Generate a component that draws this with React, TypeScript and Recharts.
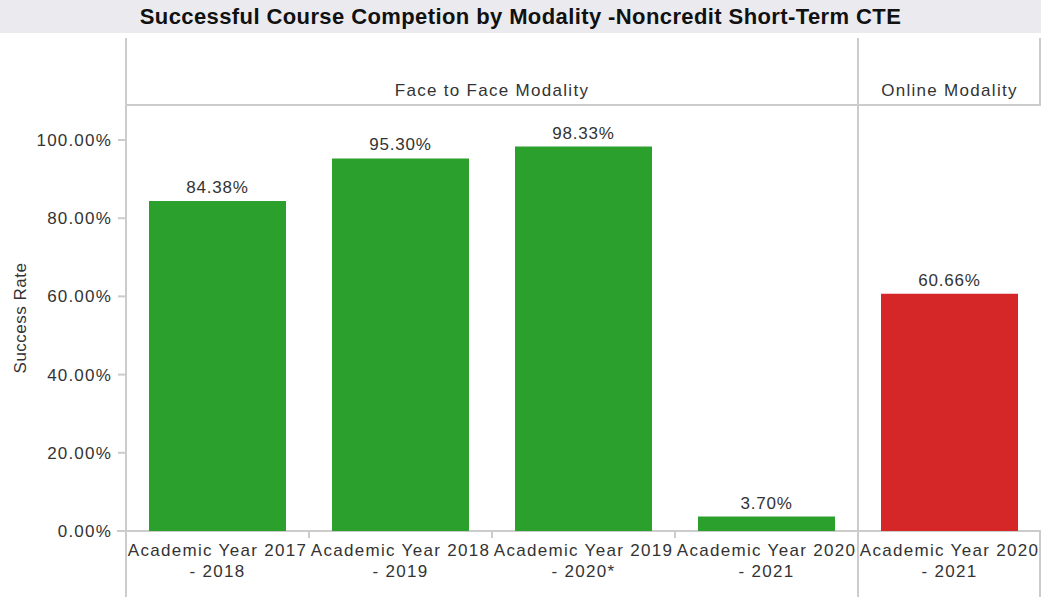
import React from "react";
import { BarChart, Bar, XAxis, YAxis, Cell, LabelList } from "recharts";

const CATEGORIES = [
  "Academic Year 2017 - 2018",
  "Academic Year 2018 - 2019",
  "Academic Year 2019 - 2020*",
  "Academic Year 2020 - 2021",
  "Academic Year 2020 - 2021",
];
const MODALITY = ["Face to Face", "Face to Face", "Face to Face", "Face to Face", "Online"];
const SUCCESS_RATE = [84.38, 95.3, 98.33, 3.7, 60.66];
const Y_TICKS = [0, 20, 40, 60, 80, 100];
const PANELS = ["Face to Face Modality", "Online Modality"];

const COLORS: Record<string, string> = { "Face to Face": "#2ca02c", Online: "#d62728" };

const W = 1041;
const H = 597;
const LEFT = 126;
const TOP = 105;
const BOTTOM = 531;
const BAND = (W - LEFT) / CATEGORIES.length;
const LINE = "#cccccc";
const TEXT = "#333333";
const FONT = "'Liberation Sans', Arial, sans-serif";

const data = CATEGORIES.map((label, i) => ({
  key: i,
  label,
  modality: MODALITY[i],
  rate: SUCCESS_RATE[i],
}));

const pct = (v: number) => `${Number(v).toFixed(2)}%`;

function CategoryTick({ x, y, payload }: any) {
  const label = data[payload.value]?.label ?? "";
  const cut = label.indexOf(" - ");
  const first = label.slice(0, cut);
  const second = label.slice(cut + 1);
  return (
    <text x={x} y={y} textAnchor="middle" fill={TEXT} fontSize={17} letterSpacing={1.3} fontFamily={FONT}>
      <tspan x={x} dy={25}>{first}</tspan>
      <tspan x={x} dy={21}>{second}</tspan>
    </text>
  );
}

const line = (left: number, top: number, width: number, height: number) => (
  <div style={{ position: "absolute", left, top, width, height, background: LINE }} />
);

const headerStyle = {
  position: "absolute" as const,
  top: 81,
  textAlign: "center" as const,
  fontSize: 17,
  letterSpacing: 1.3,
  color: TEXT,
};

export default function App() {
  const onlineStart = LEFT + BAND * 4;
  return (
    <div style={{ position: "absolute", left: 0, top: 0, width: W, height: H, background: "#fff", fontFamily: FONT }}>
      <div
        style={{
          position: "absolute",
          left: 0,
          top: 0,
          width: W,
          height: 33,
          background: "#ebebef",
          textAlign: "center",
          lineHeight: "34px",
          fontWeight: "bold",
          fontSize: 22,
          letterSpacing: 0.4,
          color: "#111",
        }}
      >
        Successful Course Competion by Modality -Noncredit Short-Term CTE
      </div>
      {line(LEFT - 1, 38, 2, H - 38)}
      {line(onlineStart - 1, 38, 2, H - 38)}
      {line(W - 2, 38, 2, TOP - 38)}
      {line(W - 2, BOTTOM, 2, H - BOTTOM)}
      {line(LEFT, TOP - 1, W - LEFT, 2)}
      {line(LEFT - 9, BOTTOM - 1, W - LEFT + 9, 2)}
      {[1, 2, 3].map((i) => (
        <React.Fragment key={i}>{line(LEFT + BAND * i - 1, BOTTOM, 2, 7)}</React.Fragment>
      ))}
      <div style={{ ...headerStyle, left: LEFT, width: BAND * 4 }}>{PANELS[0]}</div>
      <div style={{ ...headerStyle, left: onlineStart, width: BAND }}>{PANELS[1]}</div>
      <div style={{ position: "absolute", left: 0, top: 0 }}>
        <BarChart
          width={W}
          height={H}
          data={data}
          margin={{ top: TOP, right: 0, bottom: 0, left: 0 }}
          style={{ background: "transparent" }}
        >
          <XAxis
            dataKey="key"
            type="category"
            height={H - BOTTOM}
            axisLine={false}
            tickLine={false}
            tickSize={0}
            tickMargin={0}
            interval={0}
            tick={<CategoryTick />}
          />
          <YAxis
            width={LEFT}
            domain={[0, ((BOTTOM - TOP) / 391) * 100]}
            ticks={Y_TICKS}
            allowDataOverflow
            axisLine={false}
            tickLine={{ stroke: LINE, strokeWidth: 2 }}
            tickSize={8}
            tickMargin={6}
            tickFormatter={pct}
            tick={{ fill: TEXT, fontSize: 17, letterSpacing: 1.2, fontFamily: FONT }}
            label={{
              value: "Success Rate",
              angle: -90,
              position: "insideLeft",
              offset: 20,
              style: { textAnchor: "middle", fill: TEXT, fontSize: 17, letterSpacing: 0.5, fontFamily: FONT },
            }}
          />
          <Bar dataKey="rate" barSize={137} isAnimationActive={false}>
            {data.map((d) => (
              <Cell key={d.key} fill={COLORS[d.modality]} />
            ))}
            <LabelList
              dataKey="rate"
              position="top"
              offset={8}
              formatter={(v: any) => pct(v)}
              style={{ fill: TEXT, fontSize: 17, letterSpacing: 0.8, fontFamily: FONT }}
            />
          </Bar>
        </BarChart>
      </div>
    </div>
  );
}
